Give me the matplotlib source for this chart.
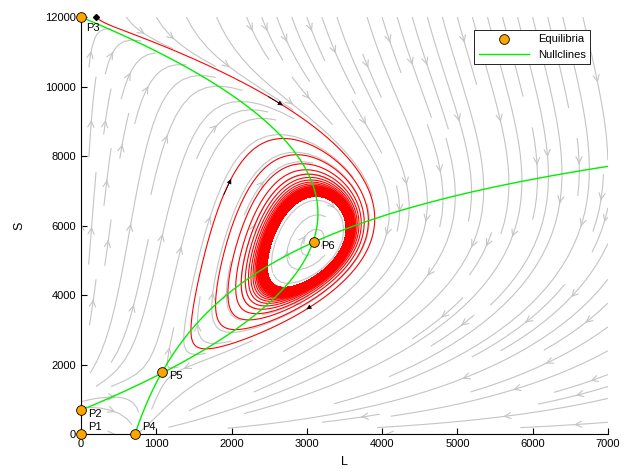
import numpy as np
import matplotlib
matplotlib.use("Agg")
import matplotlib.pyplot as plt

plt.rcParams['font.family'] = ['Liberation Sans', 'DejaVu Sans']

# equilibria (L, S)
eq_names = ["P1", "P2", "P3", "P4", "P5", "P6"]
eq_L = [0, 0, 0, 717, 1075, 3094]
eq_S = [0, 690, 12000, 0, 1784, 5525]
label_off = [(5, 5), (5, -3), (4, -8), (5, 5), (5, -3), (5, -3)]

# model parameters (prey S with Allee effect, predator L)
A_allee = 690.0     # Allee threshold of S
K_cap = 12000.0     # carrying capacity of S
C_hump = 815.0      # scale of the S-nullcline hump
L_zero = 717.0      # L level without S
S_inf = 15560.0     # asymptote of the L-nullcline
p_exp = 0.3
r_rate = 1.0
c_rate = 1.0 / 2800

start = (200.0, 12000.0)
arrow_at = [(2480, 9780), (1880, 6830), (3110, 3660)]

L_max, S_max = 7000, 12000


def rhs(L, S):
  dS = r_rate * S * ((S / A_allee - 1) * (1 - S / K_cap) - L / C_hump)
  dL = c_rate * (L * (S - S_inf) + S_inf * L_zero**p_exp * np.abs(L)**(1 - p_exp))
  return np.array([dL, dS])


def psi(L):
  return S_inf * (1 - (L_zero / L)**p_exp)


# trajectory by RK4
dt = 0.004
n_steps = 60000
traj = np.empty((n_steps, 2))
y = np.array(start)
for i in range(n_steps):
  traj[i] = y
  k1 = rhs(*y)
  k2 = rhs(*(y + dt / 2 * k1))
  k3 = rhs(*(y + dt / 2 * k2))
  k4 = rhs(*(y + dt * k3))
  y = y + dt / 6 * (k1 + 2 * k2 + 2 * k3 + k4)

fig = plt.figure(figsize=(6.28, 4.74), dpi=100)
ax = fig.add_axes([0.129, 0.084, 0.839, 0.88])

# stream lines
gx = np.linspace(0, L_max, 220)
gy = np.linspace(0, S_max, 220)
GX, GY = np.meshgrid(gx, gy)
U, V = rhs(GX, GY)
ax.streamplot(gx, gy, U, V, density=1.2, color='#c4c4c4', linewidth=0.8,
              arrowsize=1.1, arrowstyle='->')

ax.plot(traj[:, 0], traj[:, 1], color='red', lw=0.8)
ax.plot(start[0], start[1], 'kD', ms=3, clip_on=False)
n_first = 8000
for tx, ty in arrow_at:
  d = ((traj[:n_first, 0] - tx) / L_max)**2 + ((traj[:n_first, 1] - ty) / S_max)**2
  i = int(np.argmin(d))
  ax.annotate('', xy=traj[i + 15], xytext=traj[i],
              arrowprops=dict(arrowstyle='-|>', color='k', lw=0.5, mutation_scale=7))

# nullclines
s_h = np.linspace(A_allee, K_cap, 400)
l_h = C_hump * (s_h / A_allee - 1) * (1 - s_h / K_cap)
ax.plot(l_h, s_h, color='#00ee00', lw=1, label='Nullclines')
l_n = np.linspace(L_zero, L_max, 400)
ax.plot(l_n, psi(l_n), color='#00ee00', lw=1)

ax.plot(eq_L, eq_S, 'o', color='orange', mec='k', mew=0.6, ms=7, clip_on=False,
        label='Equilibria', zorder=5)
for name, lx, sy, off in zip(eq_names, eq_L, eq_S, label_off):
  ax.annotate(name, (lx, sy), xytext=off, textcoords='offset points',
              fontsize=8, va='center', ha='left')

ax.set_xlim(0, L_max)
ax.set_ylim(0, S_max)
ax.set_xticks(range(0, 7001, 1000))
ax.set_yticks(range(0, 12001, 2000))
ax.spines['top'].set_visible(False)
ax.spines['right'].set_visible(False)
ax.tick_params(direction='in', length=4, labelsize=8)
ax.set_xlabel('L', fontsize=9, labelpad=5)
ax.set_ylabel('S', fontsize=9, labelpad=14)

h, lab = ax.get_legend_handles_labels()
leg = ax.legend(h[::-1], lab[::-1], loc='upper right', bbox_to_anchor=(0.966, 0.969),
                fontsize=8, fancybox=False, edgecolor='k', framealpha=1,
                handlelength=4.5, borderaxespad=0)
leg.get_frame().set_linewidth(0.6)

fig.savefig('out.png')
